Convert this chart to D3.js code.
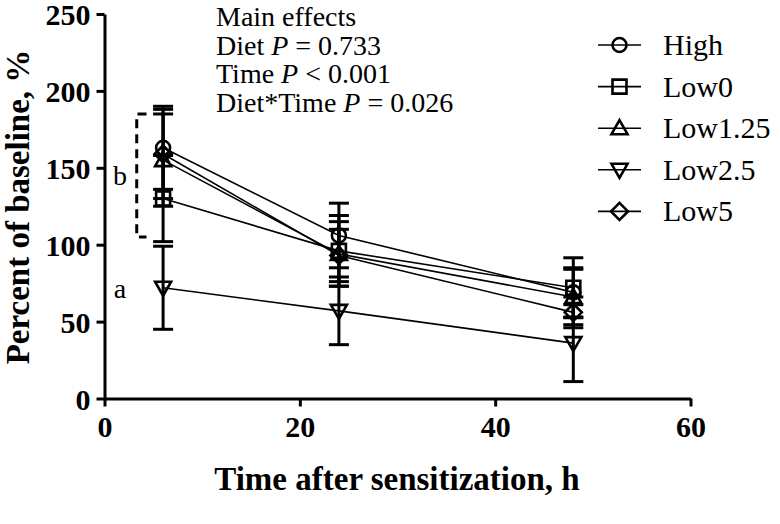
<!DOCTYPE html>
<html><head><meta charset="utf-8">
<script src="https://cdn.jsdelivr.net/npm/d3@7"></script>
</head>
<body style="margin:0;background:#fff"><svg id="c" width="780" height="524"></svg>
<script>
// ---- data ----
const times = [6, 24, 48];
const seriesNames = ["High", "Low0", "Low1.25", "Low2.5", "Low5"];
const highVals = [163, 106, 69];
const highErr  = [27, 21, 16];
const low0Vals = [130, 96, 72];
const low0Err  = [28, 23, 19.5];
const low125Vals = [155, 94, 66];
const low125Err  = [30, 21, 18];
const low25Vals = [72, 57, 36];
const low25Err  = [27, 22, 25];
const low5Vals = [159, 93, 56];
const low5Err  = [29, 17, 10];
const xTicks = [0, 20, 40, 60];
const yTicks = [0, 50, 100, 150, 200, 250];
const annotationLines = ["Main effects", "Diet|P = 0.733", "Time|P < 0.001", "Diet*Time|P = 0.026"];
const bracketRange = [105, 185];
const groupLabels = [{t:"b", v:145}, {t:"a", v:72}];

const series = [
  {name:seriesNames[0], vals:highVals, err:highErr, sym:"circle"},
  {name:seriesNames[1], vals:low0Vals, err:low0Err, sym:"square"},
  {name:seriesNames[2], vals:low125Vals, err:low125Err, sym:"triUp"},
  {name:seriesNames[3], vals:low25Vals, err:low25Err, sym:"triDown"},
  {name:seriesNames[4], vals:low5Vals, err:low5Err, sym:"diamond"}
];

const FONT = "Liberation Serif";
const svg = d3.select("#c").attr("font-family", FONT);
const x = d3.scaleLinear().domain([0,60]).range([104.5, 690.5]);
const y = d3.scaleLinear().domain([0,250]).range([398.5, 14]);

function txt(sel){ return sel.attr("font-family", FONT).attr("fill","#000"); }

function symPath(type){
  switch(type){
    case "circle": return "M7,0A7,7 0 1,1 -7,0A7,7 0 1,1 7,0Z";
    case "square": return "M-7,-7H7V7H-7Z";
    case "triUp": return "M0,-8L8,6H-8Z";
    case "triDown": return "M0,8L8,-6H-8Z";
    case "diamond": return "M0,-8.5L8.5,0L0,8.5L-8.5,0Z";
  }
}

// axes
const yAxis = d3.axisLeft(y).tickValues(yTicks).tickSize(8).tickSizeOuter(0).tickPadding(6);
const xAxis = d3.axisBottom(x).tickValues(xTicks).tickSize(8).tickSizeOuter(0).tickPadding(9);
const gy = svg.append("g").attr("transform",`translate(${x(0)},0)`).call(yAxis);
const gx = svg.append("g").attr("transform",`translate(0,${y(0)})`).call(xAxis);
[gx,gy].forEach(g=>{
  g.attr("font-family", FONT).attr("font-size", 30);
  g.select(".domain").attr("stroke","#000").attr("stroke-width",3);
  g.selectAll(".tick line").attr("stroke","#000").attr("stroke-width",3);
  txt(g.selectAll(".tick text")).attr("font-weight","bold").attr("font-size",30);
});
gy.selectAll(".tick text").attr("dy","0.36em");

// axis titles
txt(svg.append("text")).attr("x", 397).attr("y", 490).attr("text-anchor","middle")
  .attr("font-weight","bold").attr("font-size",33).text("Time after sensitization, h");
txt(svg.append("text")).attr("transform","translate(29,207) rotate(-90)").attr("text-anchor","middle")
  .attr("font-weight","bold").attr("font-size",33).text("Percent of baseline, %");

// lines
const line = d3.line().x((d,i)=>x(times[i])).y(d=>y(d));
series.forEach(s=>{
  svg.append("path").attr("d", line(s.vals)).attr("fill","none").attr("stroke","#000").attr("stroke-width",1.6);
});
// error bars
series.forEach(s=>{
  s.vals.forEach((v,i)=>{
    const cx = x(times[i]);
    const g = svg.append("g").attr("stroke","#000").attr("stroke-width",3);
    g.append("line").attr("x1",cx).attr("x2",cx).attr("y1",y(v+s.err[i])).attr("y2",y(v-s.err[i]));
    [v+s.err[i], v-s.err[i]].forEach(e=>{
      g.append("line").attr("x1",cx-10).attr("x2",cx+10).attr("y1",y(e)).attr("y2",y(e));
    });
  });
});
// markers
series.forEach(s=>{
  s.vals.forEach((v,i)=>{
    svg.append("path").attr("d", symPath(s.sym)).attr("transform",`translate(${x(times[i])},${y(v)})`)
      .attr("fill","none").attr("stroke","#000").attr("stroke-width",2.6);
  });
});

// bracket
const bx0 = x(3.3), bx1 = x(4.3);
svg.append("path").attr("d", `M${bx1},${y(bracketRange[1])}H${bx0}V${y(bracketRange[0])}H${bx1}`)
  .attr("fill","none").attr("stroke","#000").attr("stroke-width",3).attr("stroke-dasharray","9,6");
groupLabels.forEach(g=>{
  txt(svg.append("text")).attr("x", 120).attr("y", y(g.v)+10).attr("text-anchor","middle")
    .attr("font-size",28).text(g.t);
});

// annotation
annotationLines.forEach((l,i)=>{
  const t = txt(svg.append("text")).attr("x",216).attr("y",26+28.5*i).attr("font-size",28);
  const parts = l.split("|");
  t.append("tspan").text(parts[0]);
  if(parts[1]){
    const m = parts[1].match(/^(P)(.*)$/);
    t.append("tspan").text(" ");
    t.append("tspan").attr("font-style","italic").text(m[1]);
    t.append("tspan").text(m[2]);
  }
});

// legend
series.forEach((s,i)=>{
  const cy = 45 + 41.6*i;
  svg.append("line").attr("x1",598).attr("x2",641).attr("y1",cy).attr("y2",cy).attr("stroke","#000").attr("stroke-width",1.6);
  svg.append("path").attr("d", symPath(s.sym)).attr("transform",`translate(619.5,${cy})`)
    .attr("fill","none").attr("stroke","#000").attr("stroke-width",2.6);
  txt(svg.append("text")).attr("x",663).attr("y",cy+10).attr("font-size",30).text(s.name);
});
</script></body></html>
